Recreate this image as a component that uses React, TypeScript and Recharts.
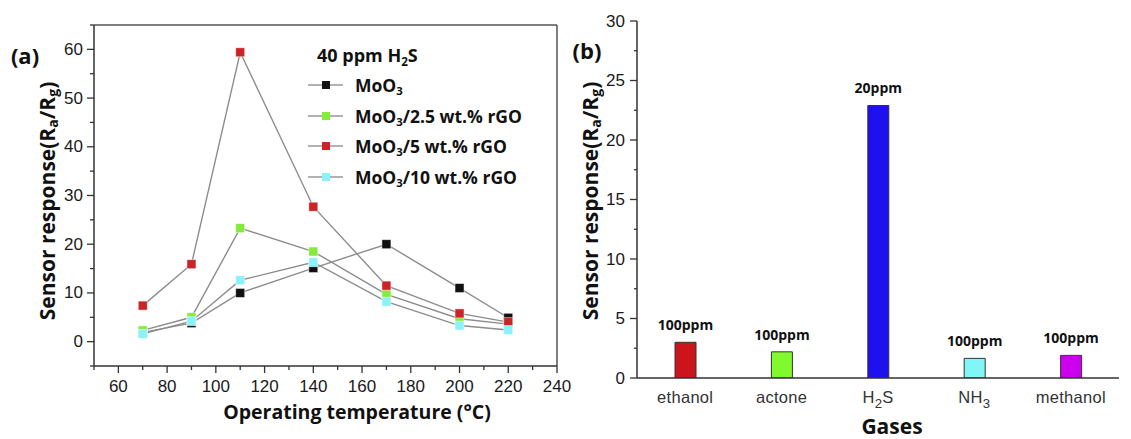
import React from 'react';
import {
  LineChart, Line, XAxis, YAxis, Legend, ReferenceLine, Label,
  BarChart, Bar, Cell, LabelList,
} from 'recharts';

// ---------- Panel (a) data ----------
const temperatures = [70, 90, 110, 140, 170, 200, 220];
const moo3 = [1.9, 3.8, 10.0, 15.1, 20.0, 11.0, 4.9];
const rgo25 = [2.3, 5.0, 23.3, 18.5, 9.7, 4.7, 3.6];
const rgo5 = [7.4, 15.9, 59.4, 27.7, 11.5, 5.8, 4.0];
const rgo10 = [1.6, 4.2, 12.6, 16.3, 8.2, 3.3, 2.4];
const seriesKeys = ['moo3', 'rgo25', 'rgo5', 'rgo10'];
const seriesNames = ['MoO3', 'MoO3/2.5 wt.% rGO', 'MoO3/5 wt.% rGO', 'MoO3/10 wt.% rGO'];
const markerColors = ['#111111', '#86ea3a', '#cc2326', '#8cf2fa'];
const legendTitle = '40 ppm H2S';

const xMajorTicks = [60, 80, 100, 120, 140, 160, 180, 200, 220, 240];
const xMinorTicks = [50, 70, 90, 110, 130, 150, 170, 190, 210, 230];
const yMajorTicks = [0, 10, 20, 30, 40, 50, 60];
const yMinorTicks = [-5, 5, 15, 25, 35, 45, 55, 65];

// ---------- Panel (b) data ----------
const gases = ['ethanol', 'actone', 'H2S', 'NH3', 'methanol'];
const responses = [3.0, 2.2, 22.9, 1.65, 1.9];
const concentrations = ['100ppm', '100ppm', '20ppm', '100ppm', '100ppm'];
const barColors = ['#cc141c', '#80fa2c', '#1f10ee', '#80f6f6', '#cc00ee'];
const barYMajorTicks = [0, 5, 10, 15, 20, 25, 30];
const barYMinorTicks = [2.5, 7.5, 12.5, 17.5, 22.5, 27.5];

const lineData = temperatures.map((t, i) => ({
  temp: t,
  moo3: moo3[i],
  rgo25: rgo25[i],
  rgo5: rgo5[i],
  rgo10: rgo10[i],
}));
const barData = gases.map((g, i) => ({ gas: g, value: responses[i], conc: concentrations[i] }));

const BOLD = '"Open Sans", "DejaVu Sans", sans-serif';
const ARIAL = '"Liberation Sans", Arial, sans-serif';

// split a chemical-ish string into normal / subscript parts
function chemParts(text: string) {
  const parts: { t: string; sub: boolean }[] = [];
  for (let i = 0; i < text.length; i++) {
    const c = text[i];
    const isDigit = c >= '0' && c <= '9';
    const prev = i > 0 ? text[i - 1] : '';
    const prevIsLetter = /[A-Za-z]/.test(prev);
    const last = parts[parts.length - 1];
    let sub = false;
    if (isDigit && (prevIsLetter || (last && last.sub && prev >= '0' && prev <= '9'))) sub = true;
    if (last && last.sub === sub) last.t += c;
    else parts.push({ t: c, sub });
  }
  return parts;
}

function svgChem(text: string, fs: number) {
  const parts = chemParts(text);
  let shifted = false;
  return parts.map((p, i) => {
    if (p.sub) {
      shifted = true;
      return (
        <tspan key={i} dy={fs * 0.35} fontSize={fs * 0.8}>{p.t}</tspan>
      );
    }
    const dy = shifted ? -fs * 0.35 : 0;
    shifted = false;
    return (
      <tspan key={i} dy={dy} fontSize={fs}>{p.t}</tspan>
    );
  });
}

function htmlChem(text: string) {
  return chemParts(text).map((p, i) =>
    p.sub ? (
      <span key={i} style={{ fontSize: '0.65em', verticalAlign: '-0.3em', lineHeight: 0 }}>{p.t}</span>
    ) : (
      <span key={i}>{p.t}</span>
    )
  );
}

// ---------- custom ticks ----------
const LeftXTick = (props: any) => {
  const { x, y, payload } = props;
  const v = payload.value;
  const major = xMajorTicks.includes(v);
  return (
    <g>
      <line x1={x} x2={x} y1={y} y2={y + (major ? 7 : 4)} stroke="#333" strokeWidth={1.3} />
      {major && (
        <text x={x} y={y + 20} textAnchor="middle" dominantBaseline="central"
          fontFamily={ARIAL} fontSize={17} fill="#1a1a1a">{v}</text>
      )}
    </g>
  );
};

const LeftYTick = (props: any) => {
  const { x, y, payload } = props;
  const v = payload.value;
  const major = yMajorTicks.includes(v);
  return (
    <g>
      <line x1={x - (major ? 7 : 4)} x2={x} y1={y} y2={y} stroke="#333" strokeWidth={1.3} />
      {major && (
        <text x={x - 11} y={y} textAnchor="end" dominantBaseline="central"
          fontFamily={ARIAL} fontSize={17} fill="#1a1a1a">{v}</text>
      )}
    </g>
  );
};

const RightYTick = (props: any) => {
  const { x, y, payload } = props;
  const v = payload.value;
  const major = barYMajorTicks.includes(v);
  return (
    <g>
      <line x1={x - (major ? 7 : 3)} x2={x} y1={y} y2={y} stroke="#333" strokeWidth={1.3} />
      {major && (
        <text x={x - 12} y={y} textAnchor="end" dominantBaseline="central"
          fontFamily={ARIAL} fontSize={17} fill="#1a1a1a">{v}</text>
      )}
    </g>
  );
};

const RightXTick = (props: any) => {
  const { x, y, payload } = props;
  const fs = 16.5;
  return (
    <text x={x} y={y + 19} textAnchor="middle" dominantBaseline="central"
      fontFamily={ARIAL} fontSize={fs} fill="#333" letterSpacing={0.3}>
      {svgChem(String(payload.value), fs)}
    </text>
  );
};

const makeDot = (color: string) => (props: any) => {
  const { cx, cy, index } = props;
  if (cx == null || cy == null) return <g key={index} />;
  return (
    <rect key={index} x={cx - 4.5} y={cy - 4.5} width={9} height={9} fill={color}
      stroke="#ffffff" strokeOpacity={0.6} strokeWidth={0.8} />
  );
};

const renderLegend = () => (
  <div style={{ fontFamily: BOLD, fontWeight: 700, color: '#111', textAlign: 'left' }}>
    <div style={{ fontSize: 18, height: 29, lineHeight: '29px', paddingLeft: 12 }}>
      {htmlChem(legendTitle)}
    </div>
    {seriesKeys.map((key, idx) => (
      <div key={key} style={{ display: 'flex', alignItems: 'center', height: 30.5 }}>
        <svg width={40} height={12} style={{ flex: 'none' }}>
          <line x1={3} x2={38} y1={6} y2={6} stroke="#999" strokeWidth={1.5} />
          <rect x={17} y={2} width={8} height={8} fill={markerColors[idx]} />
        </svg>
        <span style={{ fontSize: 17.5, marginLeft: 10, whiteSpace: 'nowrap' }}>
          {htmlChem(seriesNames[idx])}
        </span>
      </div>
    ))}
  </div>
);

const leftYTitle = () => (
  <g>
    <text x={47} y={201} transform="rotate(-90 47 201)" textAnchor="middle" dominantBaseline="central"
      fontFamily={BOLD} fontWeight={700} fontSize={21} fill="#111">
      <tspan>Sensor response(R</tspan>
      <tspan dy={5} fontSize={14}>a</tspan>
      <tspan dy={-5}>/R</tspan>
      <tspan dy={5} fontSize={14}>g</tspan>
      <tspan dy={-5}>)</tspan>
    </text>
    <text x={25} y={55} textAnchor="middle" dominantBaseline="central"
      fontFamily={BOLD} fontWeight={700} fontSize={22} fill="#111">(a)</text>
  </g>
);

const leftXTitle = () => (
  <text x={357} y={411} textAnchor="middle" dominantBaseline="central"
    fontFamily={BOLD} fontWeight={700} fontSize={19.5} fill="#111">Operating temperature (°C)</text>
);

const rightYTitle = () => (
  <g>
    <text x={25} y={201} transform="rotate(-90 25 201)" textAnchor="middle" dominantBaseline="central"
      fontFamily={BOLD} fontWeight={700} fontSize={21} fill="#111">
      <tspan>Sensor response(R</tspan>
      <tspan dy={5} fontSize={14}>a</tspan>
      <tspan dy={-5}>/R</tspan>
      <tspan dy={5} fontSize={14}>g</tspan>
      <tspan dy={-5}>)</tspan>
    </text>
    <text x={22} y={50} textAnchor="middle" dominantBaseline="central"
      fontFamily={BOLD} fontWeight={700} fontSize={22} fill="#111">(b)</text>
  </g>
);

const rightXTitle = () => (
  <text x={327} y={426} textAnchor="middle" dominantBaseline="central"
    fontFamily={BOLD} fontWeight={700} fontSize={21} fill="#111">Gases</text>
);

export default function App() {
  const leftXTicks = [...xMajorTicks, ...xMinorTicks].sort((a, b) => a - b);
  const leftYTicks = [...yMajorTicks, ...yMinorTicks].sort((a, b) => a - b);
  const rightYTicks = [...barYMajorTicks, ...barYMinorTicks].sort((a, b) => a - b);
  const drawOrder = [0, 1, 2, 3];
  return (
    <div style={{ position: 'absolute', left: 0, top: 0, width: 1131, height: 439, background: '#fff', overflow: 'hidden' }}>
      <style>{'.recharts-surface{overflow:visible}'}</style>
      <div style={{ position: 'absolute', left: 0, top: 0 }}>
        <LineChart width={565} height={439} data={lineData}
          margin={{ top: 25, right: 8, bottom: 43, left: 54 }}>
          <XAxis dataKey="temp" type="number" domain={[50, 240]} ticks={leftXTicks} interval={0}
            allowDataOverflow tick={<LeftXTick />} tickLine={false} tickSize={0} tickMargin={0}
            height={30} axisLine={{ stroke: '#333', strokeWidth: 1.5 }}>
            <Label content={leftXTitle} />
          </XAxis>
          <YAxis type="number" domain={[-5, 65]} ticks={leftYTicks} interval={0} allowDataOverflow
            tick={<LeftYTick />} tickLine={false} tickSize={0} tickMargin={0} width={40}
            axisLine={{ stroke: '#333', strokeWidth: 1.5 }}>
            <Label content={leftYTitle} />
          </YAxis>
          <ReferenceLine y={65} stroke="#555" strokeWidth={1.5} />
          <ReferenceLine x={240} stroke="#555" strokeWidth={1.5} />
          {drawOrder.map((i) => (
            <Line key={seriesKeys[i]} type="linear" dataKey={seriesKeys[i]} name={seriesNames[i]}
              stroke="#8c8c8c" strokeWidth={1.4} dot={makeDot(markerColors[i])} activeDot={false}
              isAnimationActive={false} />
          ))}
          <Legend layout="vertical" align="center" verticalAlign="middle" content={renderLegend}
            wrapperStyle={{ position: 'absolute', left: 305, top: 41, width: 250, height: 150 }} />
        </LineChart>
      </div>
      <div style={{ position: 'absolute', left: 565, top: 0 }}>
        <BarChart width={566} height={439} data={barData}
          margin={{ top: 21, right: 12, bottom: 31, left: 32 }}>
          <XAxis dataKey="gas" tick={<RightXTick />} tickLine={false} tickSize={0} tickMargin={0}
            interval={0} height={30} axisLine={{ stroke: '#333', strokeWidth: 1.5 }}>
            <Label content={rightXTitle} />
          </XAxis>
          <XAxis xAxisId="top" dataKey="gas" orientation="top" height={0} tick={false} tickLine={false}
            axisLine={{ stroke: '#333', strokeWidth: 1.5 }} />
          <YAxis type="number" domain={[0, 30]} ticks={rightYTicks} interval={0} allowDataOverflow
            tick={<RightYTick />} tickLine={false} tickSize={0} tickMargin={0} width={40}
            axisLine={{ stroke: '#333', strokeWidth: 1.5 }}>
            <Label content={rightYTitle} />
          </YAxis>
          <YAxis yAxisId="right" orientation="right" width={0} tick={false} tickLine={false}
            axisLine={{ stroke: '#333', strokeWidth: 1.5 }} />
          <Bar dataKey="value" barSize={21} stroke="#333" strokeWidth={1} isAnimationActive={false}>
            {barData.map((d, i) => (
              <Cell key={d.gas} fill={barColors[i]} />
            ))}
            <LabelList dataKey="conc" position="top" offset={12}
              style={{ fontFamily: BOLD, fontWeight: 700, fontSize: 14, fill: '#111' }} />
          </Bar>
        </BarChart>
      </div>
    </div>
  );
}
